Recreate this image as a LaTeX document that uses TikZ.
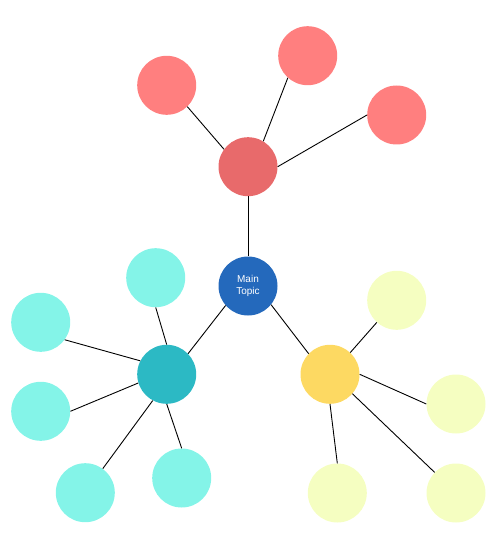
\documentclass[tikz,border=0pt]{standalone}
\usepackage{fontspec}
\setsansfont{Liberation Sans}
\begin{document}
\begin{tikzpicture}[x=1pt,y=-1pt,
  bub/.style={circle,minimum size=59pt,inner sep=0pt,draw=none},
  mainc/.style={bub,fill=mainblue,text=white,font=\sffamily\fontsize{10}{12.5}\selectfont,align=center},
  redhub/.style={bub,fill=redhubc},
  redkid/.style={bub,fill=redkidc},
  tealhub/.style={bub,fill=tealhubc},
  tealkid/.style={bub,fill=tealkidc},
  yelhub/.style={bub,fill=yelhubc},
  yelkid/.style={bub,fill=yelkidc},
  link/.style={draw=black,line width=0.9pt}]
\definecolor{mainblue}{HTML}{2469BC}
\definecolor{redhubc}{HTML}{E86A6B}
\definecolor{redkidc}{HTML}{FF7F7F}
\definecolor{tealhubc}{HTML}{2CB9C4}
\definecolor{tealkidc}{HTML}{84F4E8}
\definecolor{yelhubc}{HTML}{FDD962}
\definecolor{yelkidc}{HTML}{F5FEC1}
\useasboundingbox (0,0) rectangle (500,540);
% nodes
\node[mainc] (main) at (248,286) {Main\\Topic};
\node[redhub] (red) at (248,166.7) {};
\node[redkid] (red1) at (166.7,85.3) {};
\node[redkid] (red2) at (307.7,55.7) {};
\node[redkid] (red3) at (396.7,115) {};
\node[tealhub] (teal) at (166.7,374.3) {};
\node[tealkid] (teal1) at (155.7,277.7) {};
\node[tealkid] (teal2) at (40.7,322.3) {};
\node[tealkid] (teal3) at (40.7,411.3) {};
\node[tealkid] (teal4) at (85.3,492.7) {};
\node[tealkid] (teal5) at (181.7,478) {};
\node[yelhub] (yel) at (330,374.3) {};
\node[yelkid] (yel1) at (396.7,300.3) {};
\node[yelkid] (yel2) at (456,404) {};
\node[yelkid] (yel3) at (337.3,493) {};
\node[yelkid] (yel4) at (456,493) {};
% connectors
\draw[link] (main.90) -- (red.270);
\draw[link] (main.221) -- (teal.44);
\draw[link] (main.-39) -- (yel.136);
\draw[link] (red.144) -- (red1.-46);
\draw[link] (red.59) -- (red2.228);
\draw[link] (red.0) -- (red3.180);
\draw[link] (teal.90) -- (teal1.270);
\draw[link] (teal.153) -- (teal2.-36);
\draw[link] (teal.197) -- (teal3.0);
\draw[link] (teal.242) -- (teal4.54);
\draw[link] (teal.270) -- (teal5.90);
\draw[link] (yel.47) -- (yel1.228);
\draw[link] (yel.0) -- (yel2.180);
\draw[link] (yel.270) -- (yel3.90);
\draw[link] (yel.-41) -- (yel4.136);
\end{tikzpicture}
\end{document}
